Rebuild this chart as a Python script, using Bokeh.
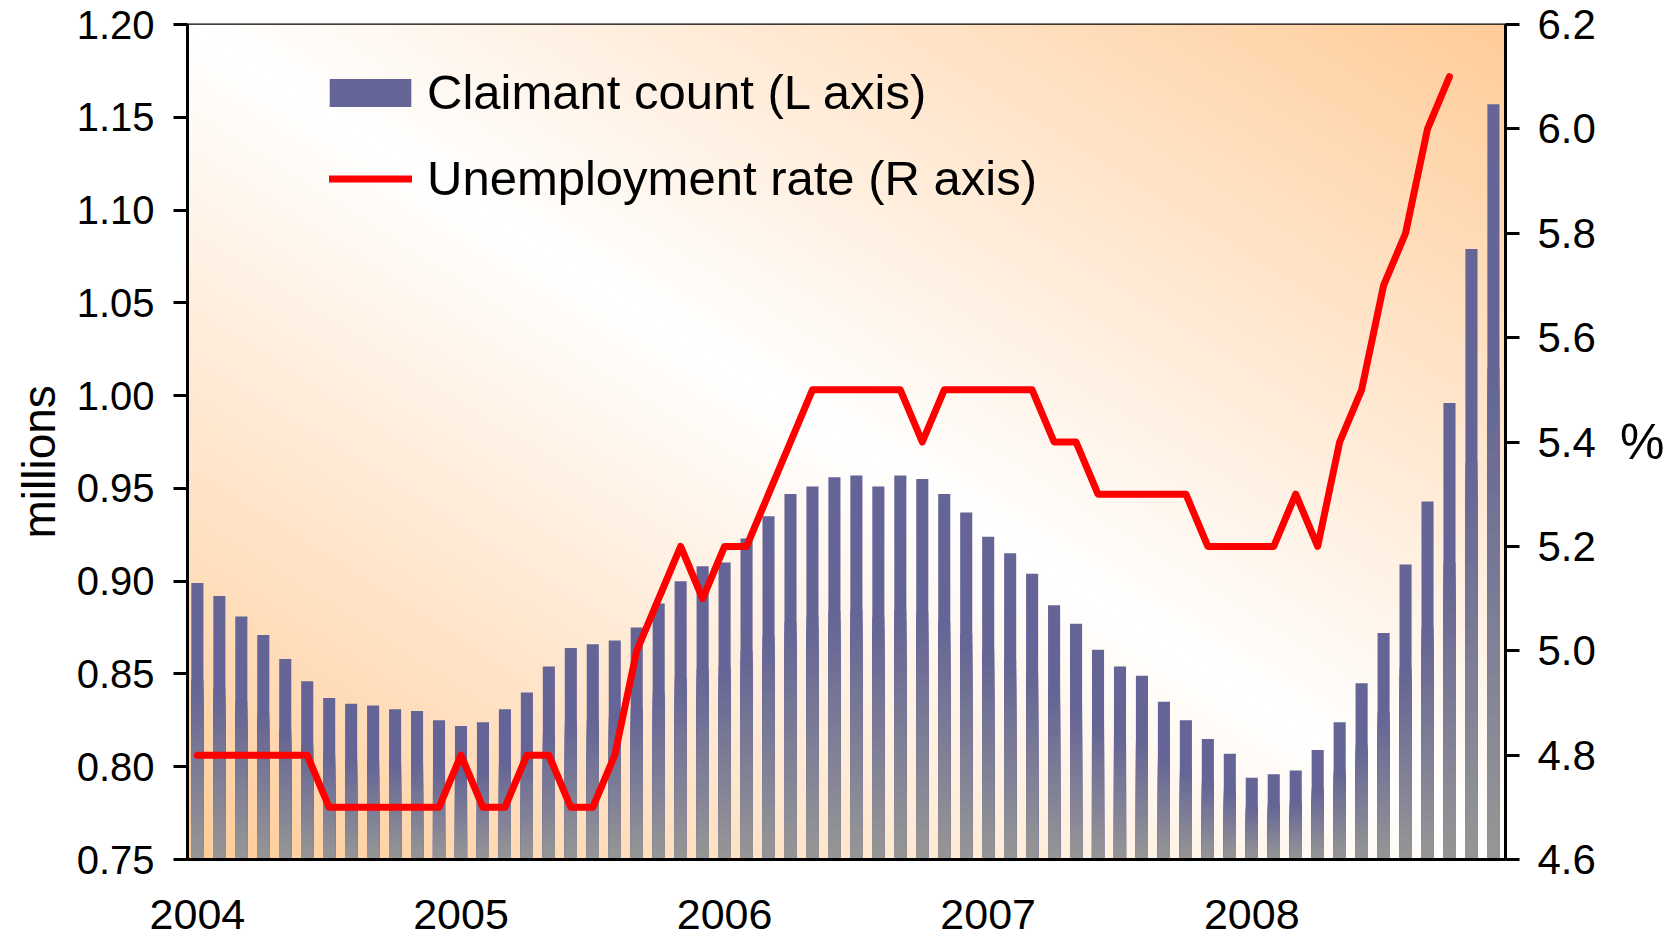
import numpy as np
from bokeh.plotting import figure
from bokeh.models import (Range1d, LinearAxis, FixedTicker, NumeralTickFormatter,
                          Legend, LegendItem, ColumnDataSource, Title)
from bokeh.embed import file_html
from bokeh.resources import INLINE

# ---------------- data ----------------
year_labels = ["2004", "2005", "2006", "2007", "2008"]
months_per_year = 12

# Claimant count, millions, monthly Jan 2004 - Dec 2008 (L axis)
claimant_count = [
    0.899, 0.892, 0.881, 0.871, 0.858, 0.846, 0.837, 0.834, 0.833, 0.831, 0.830, 0.825,
    0.822, 0.824, 0.831, 0.840, 0.854, 0.864, 0.866, 0.868, 0.875, 0.888, 0.900, 0.908,
    0.910, 0.923, 0.935, 0.947, 0.951, 0.956, 0.957, 0.951, 0.957, 0.955, 0.947, 0.937,
    0.924, 0.915, 0.904, 0.887, 0.877, 0.863, 0.854, 0.849, 0.835, 0.825, 0.815, 0.807,
    0.794, 0.796, 0.798, 0.809, 0.824, 0.845, 0.872, 0.909, 0.943, 0.996, 1.079, 1.157,
]

# Unemployment rate, %, monthly Jan 2004 - Oct 2008 (R axis)
unemployment_rate = [
    4.8, 4.8, 4.8, 4.8, 4.8, 4.8, 4.7, 4.7, 4.7, 4.7, 4.7, 4.7,
    4.8, 4.7, 4.7, 4.8, 4.8, 4.7, 4.7, 4.8, 5.0, 5.1, 5.2, 5.1,
    5.2, 5.2, 5.3, 5.4, 5.5, 5.5, 5.5, 5.5, 5.5, 5.4, 5.5, 5.5,
    5.5, 5.5, 5.5, 5.4, 5.4, 5.3, 5.3, 5.3, 5.3, 5.3, 5.2, 5.2,
    5.2, 5.2, 5.3, 5.2, 5.4, 5.5, 5.7, 5.8, 6.0, 6.1,
]

left_ticks = [0.75, 0.80, 0.85, 0.90, 0.95, 1.00, 1.05, 1.10, 1.15, 1.20]
right_ticks = [4.6, 4.8, 5.0, 5.2, 5.4, 5.6, 5.8, 6.0, 6.2]

# ---------------- styling ----------------
FONT = "Liberation Sans"
BAR_TOP = (100, 100, 150)
BAR_BOTTOM = (150, 150, 150)
BG_EDGE = (255, 204, 153)
LINE_RED = "#FF0000"


def hexcol(c):
    return "#%02x%02x%02x" % tuple(int(round(v)) for v in c)


n = len(claimant_count)
xs = list(range(n))

p = figure(width=1677, height=938, output_backend="svg", toolbar_location=None,
           x_range=Range1d(-0.45, n - 0.45),
           y_range=Range1d(left_ticks[0], left_ticks[-1]),
           min_border_left=187, min_border_right=172,
           min_border_top=24, min_border_bottom=79)
p.extra_y_ranges = {"rate": Range1d(right_ticks[0], right_ticks[-1])}
p.xgrid.visible = False
p.ygrid.visible = False
p.background_fill_color = "white"
p.border_fill_color = "white"
p.outline_line_color = "black"
p.outline_line_width = 2

# ---------------- background gradient ----------------
W, H = 700, 420
u = np.linspace(0.0, 1.0, W)[None, :]
v = np.linspace(0.0, 1.0, H)[:, None]
t = np.clip(np.abs(u + v - 1.0), 0.0, 1.0)
img = np.empty((H, W), dtype=np.uint32)
view = img.view(dtype=np.uint8).reshape((H, W, 4))
for ch in range(3):
    view[..., ch] = np.round(255 + (BG_EDGE[ch] - 255) * t).astype(np.uint8)
view[..., 3] = 255
xr, yr = p.x_range, p.y_range
p.image_rgba(image=[img], x=xr.start, y=yr.start,
             dw=xr.end - xr.start, dh=yr.end - yr.start)

# ---------------- bars ----------------
base = yr.start
bar_w = 0.55
src = ColumnDataSource(dict(x=xs, top=claimant_count))
bars = p.vbar(x="x", top="top", bottom=base, width=bar_w, source=src,
              fill_color=hexcol(BAR_TOP), line_color=None)

# vertical gradient inside each bar (blue at top fading to grey at bottom)
N = 24
solid_frac = 0.35
gx, gtop, gcol = [], [], []
for k in range(N - 1, -1, -1):
    f = (k + 0.5) / N
    col = hexcol(tuple(BAR_BOTTOM[c] + (BAR_TOP[c] - BAR_BOTTOM[c]) * f for c in range(3)))
    for xi, val in zip(xs, claimant_count):
        h = val - base
        gx.append(xi)
        gtop.append(base + h * (1 - solid_frac) * (k + 1) / N)
        gcol.append(col)
p.vbar(x=gx, top=gtop, bottom=base, width=bar_w, fill_color=gcol, line_color=None)

# ---------------- line ----------------
line = p.line(xs[:len(unemployment_rate)], unemployment_rate, y_range_name="rate",
              line_color=LINE_RED, line_width=7, line_join="round", line_cap="round")

# ---------------- axes ----------------
xa = p.xaxis[0]
xa.ticker = FixedTicker(ticks=[i * months_per_year for i in range(len(year_labels))])
xa.major_label_overrides = {i * months_per_year: lab for i, lab in enumerate(year_labels)}
xa.major_tick_out = 0
xa.major_tick_in = 0
xa.minor_tick_out = 0
xa.minor_tick_in = 0
xa.axis_line_width = 3
xa.major_label_text_font = FONT
xa.major_label_text_font_size = "43px"
xa.major_label_text_color = "black"
xa.major_label_standoff = 40

ya = p.yaxis[0]
ya.ticker = FixedTicker(ticks=left_ticks)
ya.formatter = NumeralTickFormatter(format="0.00")
ya.major_label_text_font_size = "40px"
ya.major_label_standoff = 19

yr_ax = LinearAxis(y_range_name="rate")
yr_ax.ticker = FixedTicker(ticks=right_ticks)
yr_ax.formatter = NumeralTickFormatter(format="0.0")
yr_ax.axis_label = "%"
yr_ax.axis_label_orientation = "horizontal"
yr_ax.axis_label_standoff = 21
yr_ax.axis_label_text_font_size = "50px"
yr_ax.major_label_text_font_size = "42px"
yr_ax.major_label_standoff = 18
p.add_layout(yr_ax, "right")

for ax in (ya, yr_ax):
    ax.axis_line_width = 3
    ax.major_tick_line_width = 3
    ax.major_tick_out = 14
    ax.major_tick_in = 0
    ax.minor_tick_out = 0
    ax.minor_tick_in = 0
    ax.major_label_text_font = FONT
    ax.major_label_text_color = "black"
    ax.axis_label_text_font = FONT
    ax.axis_label_text_font_style = "normal"
    ax.axis_label_text_color = "black"

# left axis title ("millions"), sitting slightly below the middle of the axis
p.add_layout(Title(text="millions", align="left", offset=321, standoff=17,
                   text_font=FONT, text_font_size="46px", text_font_style="normal",
                   text_color="black"), "left")


# ---------------- legends ----------------
def make_legend(label, renderer, loc, gw, gh, standoff):
    lg = Legend(items=[LegendItem(label=label, renderers=[renderer])], location=loc)
    lg.label_text_font = FONT
    lg.label_text_font_size = "49px"
    lg.label_text_color = "black"
    lg.glyph_width = gw
    lg.glyph_height = gh
    lg.label_height = 60
    lg.label_standoff = standoff
    lg.padding = 0
    lg.margin = 0
    lg.spacing = 0
    lg.border_line_color = None
    lg.background_fill_alpha = 0
    return lg


p.add_layout(make_legend("Claimant count (L axis)", bars, (132, 737), 102, 35, 6))
p.add_layout(make_legend("Unemployment rate (R axis)", line, (142, 651), 83, 35, 15))

open("out.html", "w").write(file_html(p, INLINE))
